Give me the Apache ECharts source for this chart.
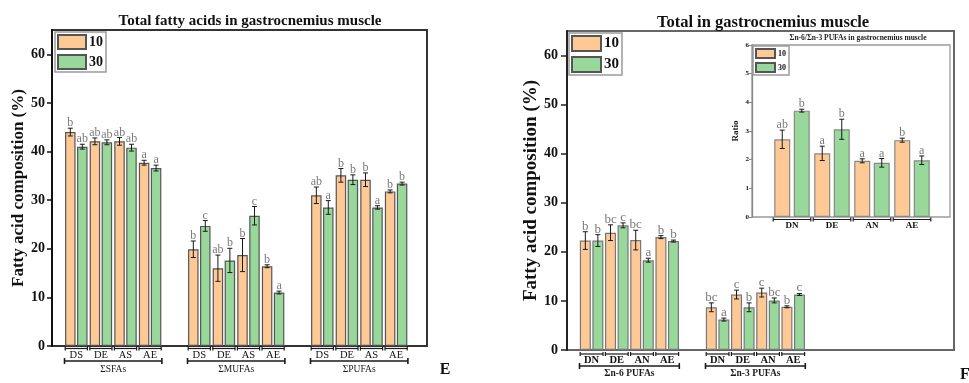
<!DOCTYPE html>
<html>
<head>
<meta charset="utf-8">
<title>Fatty acids in gastrocnemius muscle</title>
<script src="https://cdn.jsdelivr.net/npm/echarts@6.0.0/dist/echarts.min.js"></script>
<style>
    html, body { margin: 0; padding: 0; background: #fff; }
    #main { width: 969px; height: 383px; }
</style>
</head>
<body>
<div id="main"></div>
<script>
    // ---- data ----
    var leftCats = ['DS', 'DE', 'AS', 'AE'];
    var leftGroups = ['ΣSFAs', 'ΣMUFAs', 'ΣPUFAs'];
    var sfa10 = [44.0, 42.1, 42.1, 37.7];
    var sfa10Err = [0.8, 0.7, 0.8, 0.5];
    var sfa10Sig = ['b', 'ab', 'ab', 'a'];
    var sfa30 = [41.0, 41.9, 40.8, 36.6];
    var sfa30Err = [0.5, 0.5, 0.7, 0.6];
    var sfa30Sig = ['ab', 'ab', 'ab', 'a'];
    var mufa10 = [19.9, 16.0, 18.7, 16.4];
    var mufa10Err = [1.7, 2.7, 3.4, 0.3];
    var mufa10Sig = ['b', 'ab', 'b', 'b'];
    var mufa30 = [24.7, 17.6, 26.8, 11.0];
    var mufa30Err = [1.1, 2.5, 1.9, 0.3];
    var mufa30Sig = ['c', 'b', 'c', 'a'];
    var pufa10 = [31.0, 35.1, 34.2, 31.8];
    var pufa10Err = [1.7, 1.4, 1.4, 0.3];
    var pufa10Sig = ['ab', 'b', 'b', 'b'];
    var pufa30 = [28.5, 34.2, 28.5, 33.4];
    var pufa30Err = [1.4, 1.0, 0.35, 0.3];
    var pufa30Sig = ['a', 'b', 'a', 'b'];

    var rightCats = ['DN', 'DE', 'AN', 'AE'];
    var rightGroups = ['Σn-6 PUFAs', 'Σn-3 PUFAs'];
    var n6_10 = [22.3, 23.9, 22.4, 23.0];
    var n6_10Err = [1.8, 1.6, 2.0, 0.3];
    var n6_10Sig = ['b', 'bc', 'bc', 'b'];
    var n6_30 = [22.3, 25.4, 18.3, 22.2];
    var n6_30Err = [1.2, 0.5, 0.4, 0.2];
    var n6_30Sig = ['b', 'c', 'a', 'b'];
    var n3_10 = [8.7, 11.3, 11.7, 8.8];
    var n3_10Err = [0.9, 0.9, 0.9, 0.2];
    var n3_10Sig = ['bc', 'c', 'c', 'b'];
    var n3_30 = [6.2, 8.7, 10.1, 11.3];
    var n3_30Err = [0.3, 0.9, 0.5, 0.2];
    var n3_30Sig = ['a', 'b', 'bc', 'c'];

    var ratio10 = [2.71, 2.22, 1.96, 2.68];
    var ratio10Err = [0.32, 0.25, 0.07, 0.07];
    var ratio10Sig = ['ab', 'a', 'a', 'b'];
    var ratio30 = [3.71, 3.06, 1.89, 1.98];
    var ratio30Err = [0.05, 0.35, 0.15, 0.15];
    var ratio30Sig = ['b', 'b', 'a', 'a'];

    var yTicks = [0, 10, 20, 30, 40, 50, 60];
    var ratioTicks = [0, 1, 2, 3, 4, 5, 6];

    // ---- helpers ----
    var serif = '"Liberation Serif", "DejaVu Serif", serif';
    var orange = '#FFC995';
    var green = '#98D99B';

    // groups joined with one empty slot between them
    function withGaps(groups) {
        var out = [];
        groups.forEach(function (g, i) {
            if (i > 0) out.push('-');
            out = out.concat(g);
        });
        return out;
    }
    function catList(names, n) {
        var out = [];
        for (var i = 0; i < n; i++) {
            if (i > 0) out.push('');
            out = out.concat(names);
        }
        return out;
    }
    function errData(means, errs, sigs) {
        var data = [], labels = [];
        means.forEach(function (g, gi) {
            g.forEach(function (v, i) {
                data.push([gi * 5 + i, v, errs[gi][i]]);
                labels.push(sigs[gi][i]);
            });
        });
        return { data: data, labels: labels };
    }

    function barSeries(name, axis, data, color, width, gap, border) {
        return {
            name: name, type: 'bar', xAxisIndex: axis, yAxisIndex: axis,
            data: data, barWidth: width, barGap: gap,
            itemStyle: { color: color, borderColor: border, borderWidth: 1.2 },
            emphasis: { disabled: true }, z: 2
        };
    }

    function errSeries(axis, ed, sign, barW, gapRatio, fontSize) {
        return {
            type: 'custom', xAxisIndex: axis, yAxisIndex: axis, silent: true, clip: false, z: 5,
            data: ed.data,
            renderItem: function (params, api) {
                var c = api.value(0), m = api.value(1), e = api.value(2);
                var hi = api.coord([c, m + e]);
                var lo = api.coord([c, m - e]);
                var x = hi[0] + sign * barW * (1 + gapRatio) / 2;
                var cap = 2.5;
                var ls = { stroke: '#1a1a1a', lineWidth: 1 };
                return {
                    type: 'group',
                    children: [
                        { type: 'line', shape: { x1: x, y1: hi[1], x2: x, y2: lo[1] }, style: ls },
                        { type: 'line', shape: { x1: x - cap, y1: hi[1], x2: x + cap, y2: hi[1] }, style: ls },
                        { type: 'line', shape: { x1: x - cap, y1: lo[1], x2: x + cap, y2: lo[1] }, style: ls },
                        {
                            type: 'text', x: x, y: hi[1] + 1,
                            style: {
                                text: ed.labels[params.dataIndex], align: 'center', verticalAlign: 'bottom',
                                fontSize: fontSize, fontFamily: serif, fill: '#7a7a7a'
                            }
                        }
                    ]
                };
            }
        };
    }

    function bracketSeries(axis, ranges, labels, opt) {
        return {
            type: 'custom', xAxisIndex: axis, yAxisIndex: axis, silent: true, clip: false, z: 5,
            data: ranges,
            renderItem: function (params, api) {
                var s = api.value(0), e = api.value(1);
                var bw = api.size([1, 0])[0];
                var y0 = api.coord([s, 0])[1];
                var ls = { stroke: '#1a1a1a', lineWidth: 1.2 };
                var kids = [];
                for (var k = s; k <= e; k++) {
                    var cx = api.coord([k, 0])[0];
                    var xa = cx - bw / 2 + 1.2, xb = cx + bw / 2 - 1.2, y = y0 + opt.d1;
                    kids.push({ type: 'line', shape: { x1: xa, y1: y, x2: xb, y2: y }, style: ls });
                    kids.push({ type: 'line', shape: { x1: xa, y1: y - 2, x2: xa, y2: y + 2 }, style: ls });
                    kids.push({ type: 'line', shape: { x1: xb, y1: y - 2, x2: xb, y2: y + 2 }, style: ls });
                }
                if (opt.d2) {
                    var xs = api.coord([s, 0])[0] - bw / 2 + 0.5;
                    var xe = api.coord([e, 0])[0] + bw / 2 - 0.5;
                    var y2 = y0 + opt.d2;
                    var ls2 = { stroke: '#1a1a1a', lineWidth: 1.6 };
                    kids.push({ type: 'line', shape: { x1: xs, y1: y2, x2: xe, y2: y2 }, style: ls2 });
                    kids.push({ type: 'line', shape: { x1: xs, y1: y2 - 3, x2: xs, y2: y2 + 3 }, style: ls2 });
                    kids.push({ type: 'line', shape: { x1: xe, y1: y2 - 3, x2: xe, y2: y2 + 3 }, style: ls2 });
                    kids.push({
                        type: 'text', x: (xs + xe) / 2, y: y0 + opt.d3,
                        style: {
                            text: labels[params.dataIndex], align: 'center', verticalAlign: 'middle',
                            fontSize: opt.font, fontWeight: opt.bold ? 'bold' : 'normal',
                            fontFamily: serif, fill: '#1a1a1a'
                        }
                    });
                }
                return { type: 'group', children: kids };
            }
        };
    }

    function frameAxisY(min, max, ticks, opt) {
        return {
            type: 'value', gridIndex: opt.grid, min: min, max: max, interval: opt.interval,
            name: opt.name, nameLocation: 'middle', nameGap: opt.nameGap,
            nameTextStyle: { fontFamily: serif, fontWeight: 'bold', fontSize: opt.nameSize, color: '#111' },
            axisLine: { show: true, lineStyle: { color: opt.lineColor, width: opt.lineWidth } },
            axisTick: { show: true, length: opt.tickLen, customValues: ticks, lineStyle: { color: opt.lineColor, width: opt.lineWidth * 0.75 } },
            axisLabel: { customValues: ticks, fontFamily: serif, fontWeight: 'bold', fontSize: opt.labelSize, color: '#111', margin: opt.labelMargin },
            splitLine: { show: false }
        };
    }
    function hiddenY(grid, min, max) {
        return { type: 'value', gridIndex: grid, min: min, max: max, show: false, splitLine: { show: false } };
    }
    function hiddenX(grid) {
        return { type: 'value', gridIndex: grid, min: 0, max: 1, show: false, splitLine: { show: false } };
    }
    function catAxis(grid, cats, font, bold, margin) {
        return {
            type: 'category', gridIndex: grid, data: cats,
            axisLine: { show: false }, axisTick: { show: false },
            axisLabel: { interval: 0, margin: margin, fontFamily: serif, fontSize: font, fontWeight: bold ? 'bold' : 'normal', color: '#111' }
        };
    }
    function legendAt(left, top, w, h, font, gap) {
        return {
            data: ['10', '30'], orient: 'vertical', left: left, top: top,
            itemWidth: w, itemHeight: h, itemGap: gap, padding: [2, 3, 2, 2],
            borderColor: '#9a9a9a', borderWidth: 1.5, icon: 'rect', selectedMode: false,
            textStyle: { fontFamily: serif, fontWeight: 'bold', fontSize: font, color: '#111', padding: [0, 0, 0, -2] }
        };
    }

    var leftErr10 = errData([sfa10, mufa10, pufa10], [sfa10Err, mufa10Err, pufa10Err], [sfa10Sig, mufa10Sig, pufa10Sig]);
    var leftErr30 = errData([sfa30, mufa30, pufa30], [sfa30Err, mufa30Err, pufa30Err], [sfa30Sig, mufa30Sig, pufa30Sig]);
    var rightErr10 = errData([n6_10, n3_10], [n6_10Err, n3_10Err], [n6_10Sig, n3_10Sig]);
    var rightErr30 = errData([n6_30, n3_30], [n6_30Err, n3_30Err], [n6_30Sig, n3_30Sig]);
    var ratioErr10 = errData([ratio10], [ratio10Err], [ratio10Sig]);
    var ratioErr30 = errData([ratio30], [ratio30Err], [ratio30Sig]);

    var chart = echarts.init(document.getElementById('main'), null, { renderer: 'canvas' });
    chart.setOption({
        backgroundColor: '#fff',
        animation: false,
        grid: [
            { left: 52, top: 30, width: 375, height: 316, show: true, borderColor: '#333', borderWidth: 2 },
            { left: 64, top: 30, width: 344.4, height: 316 },
            { left: 567, top: 31, width: 387, height: 319, show: true, borderColor: '#666', borderWidth: 2 },
            { left: 579, top: 31, width: 226.8, height: 319 },
            { left: 752, top: 45, width: 198, height: 172, show: true, borderColor: '#9a9a9a', borderWidth: 1.3 },
            { left: 772, top: 45, width: 160, height: 172 }
        ],
        xAxis: [
            hiddenX(0),
            catAxis(1, catList(leftCats, 3), 10.5, false, 3.5),
            hiddenX(2),
            catAxis(3, catList(rightCats, 2), 10.5, true, 4.5),
            hiddenX(4),
            catAxis(5, rightCats, 9, true, 4)
        ],
        yAxis: [
            frameAxisY(0, 65, yTicks, { grid: 0, interval: 10, name: 'Fatty acid composition (%)', nameGap: 21, nameSize: 17, lineColor: '#111', lineWidth: 2, tickLen: 5, labelSize: 14, labelMargin: 7 }),
            hiddenY(1, 0, 65),
            frameAxisY(0, 65, yTicks, { grid: 2, interval: 10, name: 'Fatty acid composition (%)', nameGap: 17, nameSize: 19, lineColor: '#222', lineWidth: 2, tickLen: 6, labelSize: 14, labelMargin: 9 }),
            hiddenY(3, 0, 65),
            frameAxisY(0, 6, ratioTicks, { grid: 4, interval: 1, name: 'Ratio', nameGap: 12, nameSize: 9, lineColor: '#888', lineWidth: 1.3, tickLen: 3, labelSize: 7, labelMargin: 3 }),
            hiddenY(5, 0, 6)
        ],
        legend: [
            legendAt(55, 32, 28, 14, 14, 4),
            legendAt(569, 33, 29, 15, 15, 4),
            legendAt(753, 46, 19, 9, 8, 3)
        ],
        graphic: [
            { type: 'text', x: 250, y: 21.5, style: { text: 'Total fatty acids in gastrocnemius muscle', align: 'center', verticalAlign: 'middle', fontFamily: serif, fontWeight: 'bold', fontSize: 15, fill: '#111' } },
            { type: 'text', x: 763, y: 23, style: { text: 'Total in gastrocnemius muscle', align: 'center', verticalAlign: 'middle', fontFamily: serif, fontWeight: 'bold', fontSize: 16.5, fill: '#111' } },
            { type: 'text', x: 858, y: 38, style: { text: 'Σn-6/Σn-3 PUFAs in gastrocnemius muscle', align: 'center', verticalAlign: 'middle', fontFamily: serif, fontWeight: 'bold', fontSize: 7.5, fill: '#222' } },
            { type: 'text', x: 445, y: 370, style: { text: 'E', align: 'center', verticalAlign: 'middle', fontFamily: serif, fontWeight: 'bold', fontSize: 16, fill: '#111' } },
            { type: 'text', x: 965, y: 375, style: { text: 'F', align: 'center', verticalAlign: 'middle', fontFamily: serif, fontWeight: 'bold', fontSize: 16, fill: '#111' } }
        ],
        series: [
            barSeries('10', 1, withGaps([sfa10, mufa10, pufa10]), orange, 10.5, '14%', '#555'),
            barSeries('30', 1, withGaps([sfa30, mufa30, pufa30]), green, 10.5, '14%', '#555'),
            barSeries('10', 3, withGaps([n6_10, n3_10]), orange, 11, '14%', '#777'),
            barSeries('30', 3, withGaps([n6_30, n3_30]), green, 11, '14%', '#777'),
            barSeries('10', 5, ratio10, orange, 16, '22%', '#888'),
            barSeries('30', 5, ratio30, green, 16, '22%', '#888'),
            errSeries(1, leftErr10, -1, 10.5, 0.14, 12),
            errSeries(1, leftErr30, 1, 10.5, 0.14, 12),
            errSeries(3, rightErr10, -1, 11, 0.14, 13),
            errSeries(3, rightErr30, 1, 11, 0.14, 13),
            errSeries(5, ratioErr10, -1, 16, 0.22, 12),
            errSeries(5, ratioErr30, 1, 16, 0.22, 12),
            bracketSeries(1, [[0, 3], [5, 8], [10, 13]], leftGroups, { d1: 2.5, d2: 15, d3: 23.5, font: 9.5, bold: false }),
            bracketSeries(3, [[0, 3], [5, 8]], rightGroups, { d1: 4, d2: 16, d3: 23.5, font: 9.5, bold: true }),
            bracketSeries(5, [[0, 3]], [], { d1: 2.5 })
        ]
    });
</script>
</body>
</html>
